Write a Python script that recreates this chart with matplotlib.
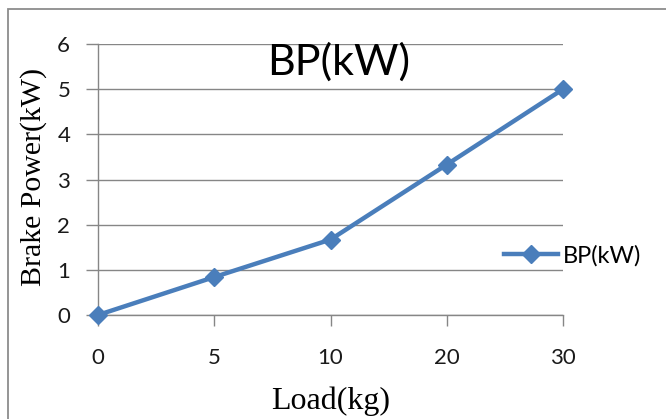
import matplotlib
matplotlib.use("Agg")
import matplotlib.pyplot as plt
from matplotlib.patches import Rectangle

categories = ["0", "5", "10", "20", "30"]
bp_kw = [0.0, 0.84, 1.67, 3.33, 5.0]
y_ticks = [0, 1, 2, 3, 4, 5, 6]

W, H = 666, 419
fig = plt.figure(figsize=(W / 100, H / 100), dpi=100)
fig.patch.set_facecolor("white")

# outer chart border
fig.patches.append(Rectangle((8 / W, -0.2), 1.5, 1.2 - 9 / H,
                             transform=fig.transFigure, fill=False,
                             edgecolor="#8c8c8c", linewidth=1.3, clip_on=False))

L, R, T, B = 98, 563, 44, 315
ax = fig.add_axes([L / W, 1 - B / H, (R - L) / W, (B - T) / H])
x = list(range(len(categories)))
color = "#4A7EBB"
ax.plot(x, bp_kw, color=color, linewidth=3.2, marker="D", markersize=9.5,
        markeredgecolor=color, markerfacecolor=color, label="BP(kW)",
        clip_on=False, zorder=5)

ax.set_xlim(0, len(categories) - 1)
ax.set_ylim(0, 6)
ax.set_xticks(x)
ax.set_xticklabels(categories)
ax.set_yticks(y_ticks)
ax.grid(axis="y", color="#868686", linewidth=1.0)
ax.set_axisbelow(True)
for s in ["top", "right"]:
    ax.spines[s].set_visible(False)
for s in ["left", "bottom"]:
    ax.spines[s].set_color("#868686")
    ax.spines[s].set_linewidth(1.0)

tickfont = "Lato"
ax.tick_params(axis="y", length=9, width=1.0, color="#868686", pad=11,
               labelsize=16, labelcolor="#1a1a1a")
ax.tick_params(axis="x", length=8, width=1.0, color="#868686", pad=16,
               labelsize=16, labelcolor="#1a1a1a")
for lab in ax.get_xticklabels() + ax.get_yticklabels():
    lab.set_fontfamily(tickfont)

ax.set_xlabel("Load(kg)", fontfamily="Liberation Serif", fontsize=23)
ax.set_ylabel("Brake Power(kW)", fontfamily="Liberation Serif", fontsize=21.5)
ax.xaxis.set_label_coords(0.5, (B - 386) / (B - T))
ax.yaxis.set_label_coords((47 - L) / (R - L), (B - 177) / (B - T))

fig.text(339 / W, 1 - 62 / H, "BP(kW)", fontfamily=tickfont, fontsize=31,
         ha="center", va="center", color="#000000")

leg = fig.legend(loc="center left", bbox_to_anchor=(504 / W, 1 - 256 / H),
                 frameon=False, prop={"family": tickfont, "size": 17},
                 handlelength=2.3, handletextpad=0.2, borderpad=0,
                 borderaxespad=0)

fig.savefig("out.png", dpi=100)
